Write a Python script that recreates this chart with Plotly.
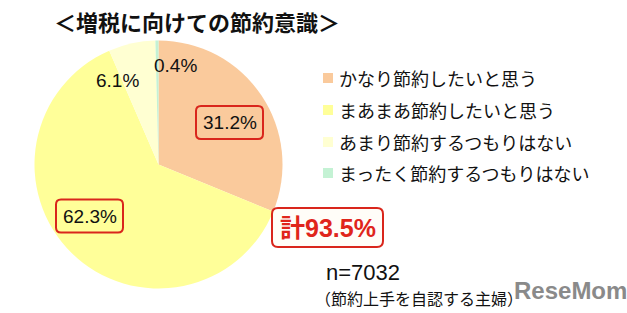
import plotly.graph_objects as go

W, H = 627, 313

# ---- data ----
categories = ["かなり節約したいと思う", "まあまあ節約したいと思う", "あまり節約するつもりはない", "まったく節約するつもりはない"]
values = [31.2, 62.3, 6.1, 0.4]
value_labels = ["31.2%", "62.3%", "6.1%", "0.4%"]
colors = ["#FACA9C", "#FFFF99", "#FFFFD2", "#C4F2D4"]
title_text = "＜増税に向けての節約意識＞"
total_text = "計93.5%"
n_text = "n=7032"
n_note = "（節約上手を自認する主婦）"

FONT = "Liberation Sans, Noto Sans CJK JP, sans-serif"
JFONT = "Noto Sans CJK JP, sans-serif"

def px(x):
    return x / W

def py(y):
    return 1 - y / H

# pie placement (pixels)
cx, cy, r = 158.5, 164.5, 124

fig = go.Figure(go.Pie(
    labels=categories,
    values=values,
    marker=dict(colors=colors, line=dict(width=0)),
    sort=False,
    direction="clockwise",
    rotation=0,
    textinfo="none",
    hoverinfo="label+value",
    showlegend=False,
    domain=dict(x=[px(cx - r), px(cx + r)], y=[py(cy + r), py(cy - r)]),
))

annotations = []
shapes = []

def rbox(x0, y0, x1, y1, rad=5, color="#D9261C", fill="rgba(0,0,0,0)", width=2):
    rx, ry = rad / W, rad / H
    X0, X1 = px(x0), px(x1)
    Y0, Y1 = py(y0), py(y1)  # Y0 top, Y1 bottom
    path = (f"M {X0+rx},{Y0} L {X1-rx},{Y0} Q {X1},{Y0} {X1},{Y0-ry} "
            f"L {X1},{Y1+ry} Q {X1},{Y1} {X1-rx},{Y1} "
            f"L {X0+rx},{Y1} Q {X0},{Y1} {X0},{Y1+ry} "
            f"L {X0},{Y0-ry} Q {X0},{Y0} {X0+rx},{Y0} Z")
    shapes.append(dict(type="path", xref="paper", yref="paper", path=path,
                       line=dict(color=color, width=width), fillcolor=fill, layer="above"))

# slice label positions (pixels) – layout only
label_pos = [(229.5, 122.5), (89.5, 216), (117.5, 81), (175.5, 66)]
boxed = [True, True, False, False]
for lab, (x, y), b in zip(value_labels, label_pos, boxed):
    annotations.append(dict(x=px(x), y=py(y), xref="paper", yref="paper", text=lab,
                            showarrow=False, font=dict(family=FONT, size=19, color="#111"),
                            xanchor="center", yanchor="middle"))
    if b:
        rbox(x - 33.5, y - 16.5, x + 33.5, y + 16.5)

# total box
rbox(272, 208, 383, 247, rad=6, fill="#FFFDF8", width=2)
annotations.append(dict(x=px(327.5), y=py(228), xref="paper", yref="paper", text=total_text,
                        showarrow=False, font=dict(family=FONT, size=25, color="#E0251B", weight="bold"),
                        xanchor="center", yanchor="middle"))

# legend (manual)
leg_y = [78, 110, 142, 173]
for cat, col, y in zip(categories, colors, leg_y):
    shapes.append(dict(type="rect", xref="paper", yref="paper",
                       x0=px(323), x1=px(333), y0=py(y + 5), y1=py(y - 5),
                       line=dict(width=0), fillcolor=col))
    annotations.append(dict(x=px(337), y=py(y), xref="paper", yref="paper", text=cat,
                            showarrow=False, font=dict(family=JFONT, size=18, color="#111"),
                            xanchor="left", yanchor="middle"))

# title
annotations.append(dict(x=px(197), y=py(21), xref="paper", yref="paper", text=title_text,
                        showarrow=False, font=dict(family=JFONT, size=22, color="#111", weight="bold"),
                        xanchor="center", yanchor="middle"))

# n
annotations.append(dict(x=px(324), y=py(272.5), xref="paper", yref="paper", text=n_text,
                        showarrow=False, font=dict(family=FONT, size=22, color="#111"),
                        xanchor="left", yanchor="middle"))
annotations.append(dict(x=px(313), y=py(298), xref="paper", yref="paper", text=n_note,
                        showarrow=False, font=dict(family=JFONT, size=16, color="#111"),
                        xanchor="left", yanchor="middle"))

# watermark
annotations.append(dict(x=px(570), y=py(290), xref="paper", yref="paper", text="ReseMom",
                        showarrow=False, font=dict(family=FONT, size=24, color="#8A8A8A", weight="bold"),
                        xanchor="center", yanchor="middle"))

fig.update_layout(
    width=W, height=H,
    margin=dict(l=0, r=0, t=0, b=0),
    paper_bgcolor="white",
    plot_bgcolor="white",
    annotations=annotations,
    shapes=shapes,
)

fig.write_html("out.html")
